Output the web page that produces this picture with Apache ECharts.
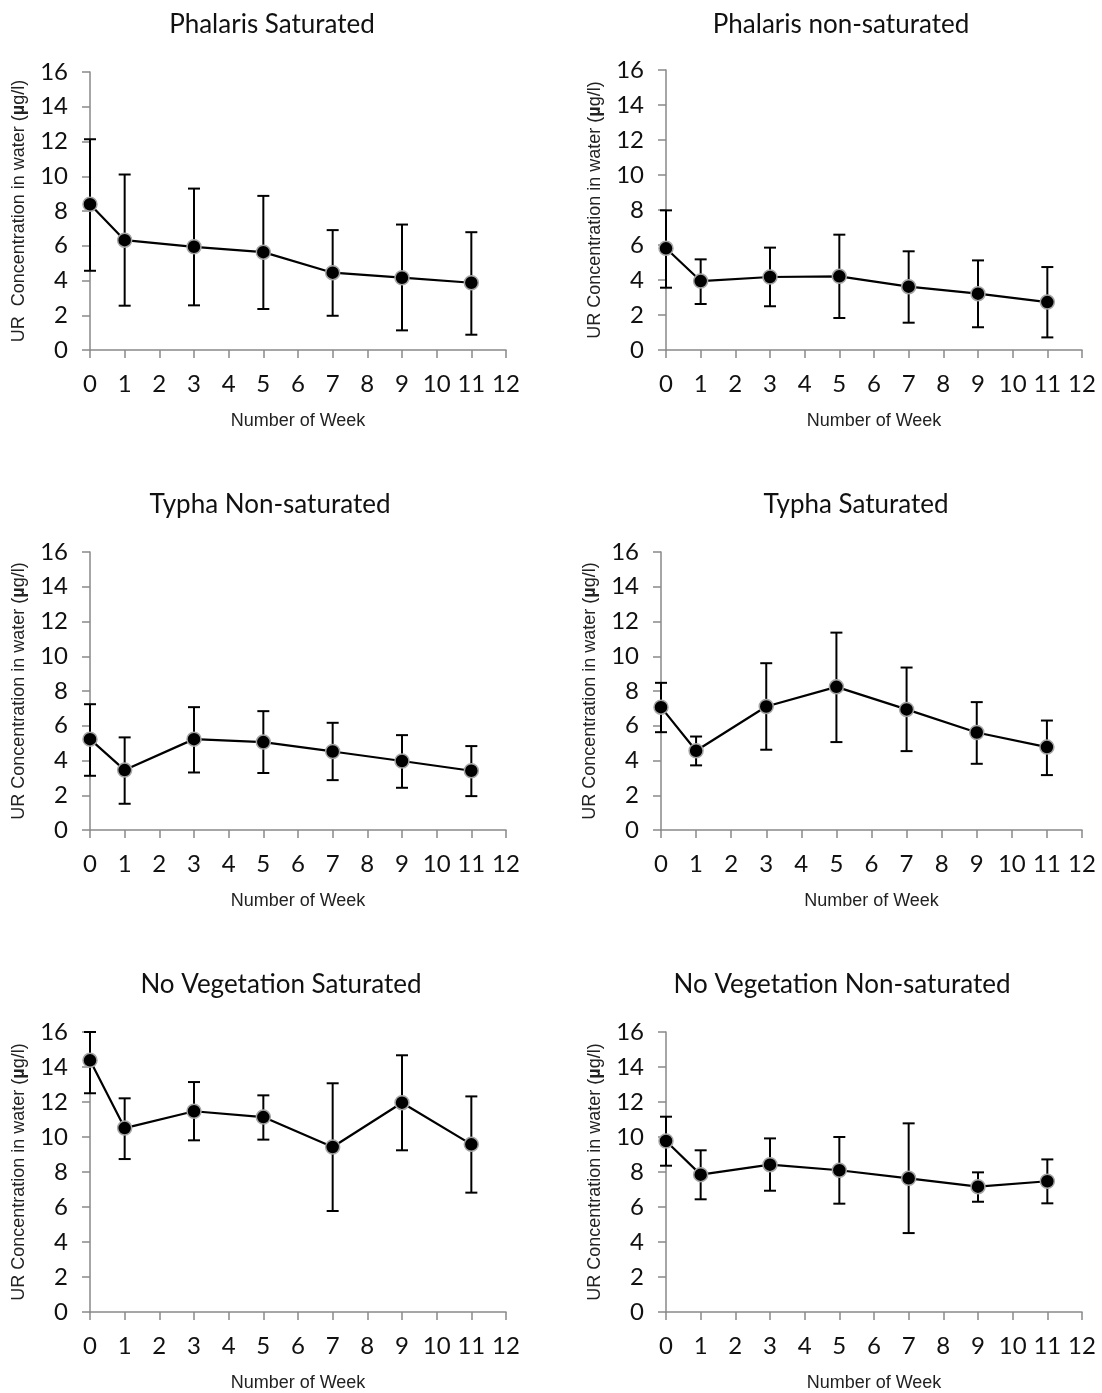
<!DOCTYPE html>
<html>
<head>
<meta charset="utf-8">
<script src="https://cdn.jsdelivr.net/npm/echarts@6/dist/echarts.min.js"></script>
<style>
html,body{margin:0;padding:0;background:#fff;}
#chart{width:1102px;height:1393px;}
</style>
</head>
<body>
<div id="chart"></div>
<script>
// ---- data ----
const weeks = [0, 1, 3, 5, 7, 9, 11];
const xTicks = [0, 1, 2, 3, 4, 5, 6, 7, 8, 9, 10, 11, 12];
const yTicks = [0, 2, 4, 6, 8, 10, 12, 14, 16];

const panelTitles = [
  'Phalaris Saturated', 'Phalaris non-saturated',
  'Typha Non-saturated', 'Typha Saturated',
  'No Vegetation Saturated', 'No Vegetation Non-saturated'
];
const xAxisName = 'Number of Week';
const yAxisNames = [
  'UR  Concentration in water ({b|µ}g/l)',
  'UR Concentration in water ({b|µ}g/l)',
  'UR Concentration in water ({b|µ}g/l)',
  'UR Concentration in water ({b|µ}g/l)',
  'UR Concentration in water ({b|µ}g/l)',
  'UR Concentration in water ({b|µ}g/l)'
];

const phalarisSatMean  = [8.39, 6.32, 5.94, 5.63, 4.45, 4.16, 3.87];
const phalarisSatUpper = [12.13, 10.10, 9.29, 8.87, 6.90, 7.22, 6.78];
const phalarisSatLower = [4.56, 2.55, 2.57, 2.36, 1.97, 1.13, 0.88];

const phalarisNonMean  = [5.81, 3.94, 4.17, 4.21, 3.62, 3.22, 2.74];
const phalarisNonUpper = [7.98, 5.18, 5.85, 6.59, 5.64, 5.12, 4.74];
const phalarisNonLower = [3.56, 2.63, 2.50, 1.83, 1.56, 1.30, 0.72];

const typhaNonMean  = [5.23, 3.45, 5.23, 5.06, 4.52, 3.97, 3.41];
const typhaNonUpper = [7.24, 5.33, 7.07, 6.84, 6.17, 5.46, 4.83];
const typhaNonLower = [3.12, 1.51, 3.31, 3.28, 2.87, 2.43, 1.95];

const typhaSatMean  = [7.07, 4.56, 7.11, 8.24, 6.94, 5.61, 4.77];
const typhaSatUpper = [8.47, 5.38, 9.60, 11.36, 9.35, 7.36, 6.30];
const typhaSatLower = [5.63, 3.72, 4.62, 5.06, 4.54, 3.81, 3.16];

const noVegSatMean  = [14.38, 10.51, 11.47, 11.14, 9.43, 11.96, 9.58];
const noVegSatUpper = [16.00, 12.21, 13.14, 12.38, 13.07, 14.67, 12.32];
const noVegSatLower = [12.50, 8.74, 9.81, 9.85, 5.77, 9.24, 6.82];

const noVegNonMean  = [9.77, 7.85, 8.42, 8.10, 7.64, 7.16, 7.47];
const noVegNonUpper = [11.16, 9.24, 9.92, 10.00, 10.78, 7.98, 8.72];
const noVegNonLower = [8.36, 6.44, 6.93, 6.19, 4.51, 6.30, 6.21];

const panelMeans  = [phalarisSatMean, phalarisNonMean, typhaNonMean, typhaSatMean, noVegSatMean, noVegNonMean];
const panelUppers = [phalarisSatUpper, phalarisNonUpper, typhaNonUpper, typhaSatUpper, noVegSatUpper, noVegNonUpper];
const panelLowers = [phalarisSatLower, phalarisNonLower, typhaNonLower, typhaSatLower, noVegSatLower, noVegNonLower];

// ---- layout ----
const grids = [
  {left: 90,  top: 72,   width: 416, height: 278},
  {left: 666, top: 70,   width: 416, height: 280},
  {left: 90,  top: 552,  width: 416, height: 278},
  {left: 661, top: 552,  width: 421, height: 278},
  {left: 90,  top: 1032, width: 416, height: 280},
  {left: 666, top: 1032, width: 416, height: 280}
];
const titlePos = [
  {x: 267, y: 7}, {x: 836, y: 7},
  {x: 265, y: 487}, {x: 851, y: 487},
  {x: 276, y: 967}, {x: 837, y: 967}
];

const FONT = 'Lato';
const NARROW = '"Liberation Sans Narrow", "Liberation Sans", Arial, sans-serif';
const axisGrey = '#898989';

const option = {
  backgroundColor: '#fff',
  animation: false,
  title: [], grid: [], xAxis: [], yAxis: [], series: []
};

function errorBarRender(params, api) {
  const x = api.value(0), lo = api.value(1), hi = api.value(2);
  const pHi = api.coord([x, hi]);
  const pLo = api.coord([x, lo]);
  const w = 6;
  const st = {stroke: '#000', lineWidth: 2};
  return {
    type: 'group',
    children: [
      {type: 'line', shape: {x1: pHi[0], y1: pHi[1], x2: pLo[0], y2: pLo[1]}, style: st},
      {type: 'line', shape: {x1: pHi[0] - w, y1: pHi[1], x2: pHi[0] + w, y2: pHi[1]}, style: st},
      {type: 'line', shape: {x1: pLo[0] - w, y1: pLo[1], x2: pLo[0] + w, y2: pLo[1]}, style: st}
    ]
  };
}

for (let i = 0; i < 6; i++) {
  option.title.push({
    text: panelTitles[i],
    left: titlePos[i].x, top: titlePos[i].y, textAlign: 'center',
    textStyle: {fontFamily: FONT, fontSize: 26, fontWeight: 'normal', color: '#111'}
  });
  option.grid.push(Object.assign({containLabel: false}, grids[i]));
  option.xAxis.push({
    type: 'value', gridIndex: i, min: 0, max: 12, interval: 1,
    name: xAxisName, nameLocation: 'middle', nameGap: 62,
    nameTextStyle: {fontFamily: NARROW, fontSize: 18, color: '#222'},
    axisLine: {show: true, onZero: false, lineStyle: {color: axisGrey, width: 1.5}},
    axisTick: {show: true, length: 8, lineStyle: {color: axisGrey, width: 1.5}},
    axisLabel: {fontFamily: FONT, fontSize: 24, color: '#111', margin: 22,
      formatter: v => xTicks.includes(v) ? String(v) : ''},
    splitLine: {show: false}
  });
  option.yAxis.push({
    type: 'value', gridIndex: i, min: 0, max: 16, interval: 2,
    name: yAxisNames[i], nameLocation: 'middle', nameGap: 62, nameRotate: 90,
    nameTextStyle: {fontFamily: NARROW, fontSize: 18, color: '#222',
      rich: {b: {fontFamily: NARROW, fontSize: 18, fontWeight: 'bold', color: '#222'}}},
    axisLine: {show: true, lineStyle: {color: axisGrey, width: 1.5}},
    axisTick: {show: true, length: 8, lineStyle: {color: axisGrey, width: 1.5}},
    axisLabel: {fontFamily: FONT, fontSize: 24, color: '#111', margin: 22,
      formatter: v => yTicks.includes(v) ? String(v) : ''},
    splitLine: {show: false}
  });
  option.series.push({
    type: 'custom', xAxisIndex: i, yAxisIndex: i, z: 1,
    renderItem: errorBarRender, clip: false,
    data: weeks.map((w, k) => [w, panelLowers[i][k], panelUppers[i][k]])
  });
  option.series.push({
    type: 'line', xAxisIndex: i, yAxisIndex: i, z: 3,
    data: weeks.map((w, k) => [w, panelMeans[i][k]]),
    symbol: 'circle', symbolSize: 14, clip: false,
    lineStyle: {color: '#000', width: 2.2},
    itemStyle: {color: '#000', borderColor: '#a6a6a6', borderWidth: 1.5}
  });
}

const chart = echarts.init(document.getElementById('chart'), null, {renderer: 'canvas'});
chart.setOption(option);
</script>
</body>
</html>
